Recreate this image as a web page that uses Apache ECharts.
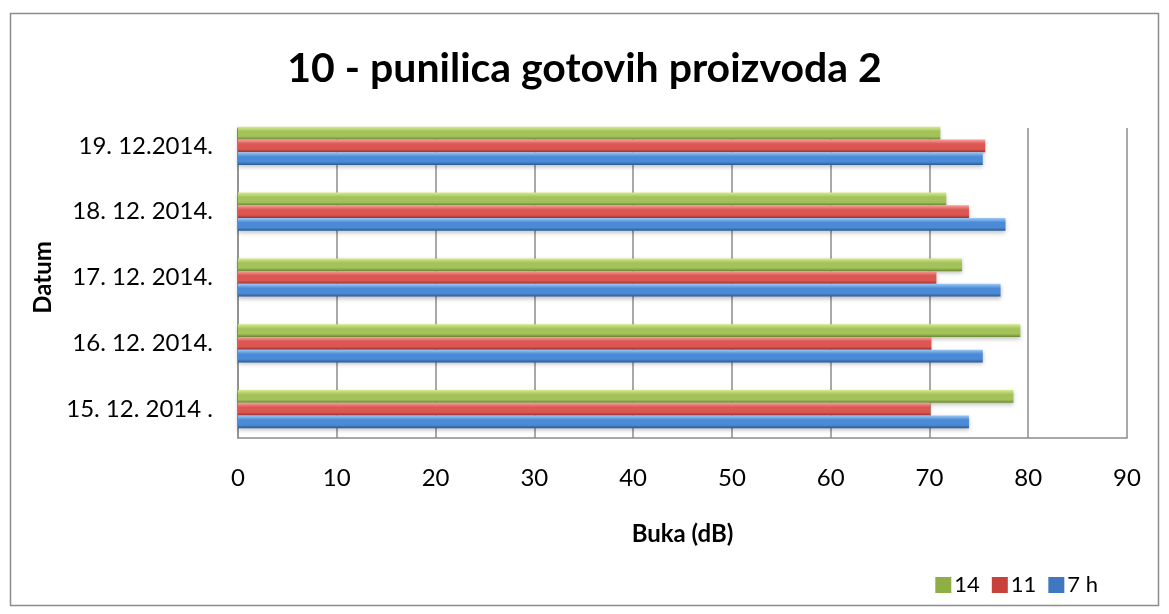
<!DOCTYPE html>
<html>
<head>
<meta charset="utf-8">
<script src="https://cdn.jsdelivr.net/npm/echarts@6/dist/echarts.min.js"></script>
<style>html,body{margin:0;padding:0;background:#fff}#c{width:1169px;height:614px}</style>
</head>
<body>
<div id="c"></div>
<script>
const categories = ['15. 12. 2014 .', '16. 12. 2014.', '17. 12. 2014.', '18. 12. 2014.', '19. 12.2014.'];
const s7h = [74.0, 75.4, 77.2, 77.7, 75.4];
const s11 = [70.1, 70.2, 70.7, 74.0, 75.65];
const s14 = [78.5, 79.2, 73.3, 71.7, 71.1];
const seriesNames = ['14', '11', '7 h'];
const legendOrder = ['14', '11', '7 h'];
const xTicks = [0, 10, 20, 30, 40, 50, 60, 70, 80, 90];

const FONT = 'Lato';
function grad(top, mid, bot) {
  return new echarts.graphic.LinearGradient(0, 0, 0, 1, [
    {offset: 0, color: top}, {offset: 0.35, color: mid}, {offset: 0.75, color: mid}, {offset: 1, color: bot}
  ]);
}
const colors = {
  '7 h': grad('#9cc8f5', '#4a8ad6', '#2c5a92'),
  '11': grad('#f8a09c', '#dc5652', '#9c3431'),
  '14': grad('#d6ea8c', '#a3c25a', '#6d8a36')
};
const legendColors = {'7 h': '#3f78c0', '11': '#c9413d', '14': '#8fae46'};

const chart = echarts.init(document.getElementById('c'), null, {renderer: 'canvas'});
const dataMap = {'7 h': s7h, '11': s11, '14': s14};
chart.setOption({
  animation: false,
  backgroundColor: '#fff',
  title: {
    text: '10 - punilica gotovih proizvoda 2',
    left: 'center', top: 43,
    textStyle: {fontFamily: FONT, fontWeight: 'bold', fontSize: 41, color: '#000'}
  },
  graphic: [{
    type: 'rect', shape: {x: 10.5, y: 13.5, width: 1148, height: 592},
    style: {fill: 'none', stroke: '#8c8c8c', lineWidth: 1.5}, silent: true, z: -10
  }],
  legend: {
    data: legendOrder.map(n => ({name: n, itemStyle: {color: legendColors[n]}})),
    right: 66, top: 569, itemWidth: 16, itemHeight: 16, itemGap: 12,
    icon: 'rect',
    textStyle: {fontFamily: FONT, fontSize: 22, color: '#000', padding: [0, 0, 0, -2]}
  },
  grid: [
    {left: 238, right: 42, top: 113, bottom: 172},
    {left: 238, right: 42, top: 128, bottom: 176}
  ],
  xAxis: [
    {gridIndex: 0, type: 'value', min: 0, max: 90, interval: 10, show: false},
    {gridIndex: 1, type: 'value', min: 0, max: 90, interval: 10,
     name: 'Buka (dB)', nameLocation: 'middle', nameGap: 84,
     nameTextStyle: {fontFamily: FONT, fontWeight: 'bold', fontSize: 24, color: '#000'},
     axisLine: {show: true, lineStyle: {color: '#8c8c8c', width: 1.5}},
     axisTick: {show: false},
     splitLine: {show: true, lineStyle: {color: '#8c8c8c', width: 1.5}},
     axisLabel: {fontFamily: FONT, fontSize: 24, color: '#000', margin: 28,
       formatter: v => xTicks.includes(v) ? String(v) : ''}}
  ],
  yAxis: [
    {gridIndex: 0, type: 'category', data: categories,
     name: 'Datum', nameLocation: 'middle', nameGap: 181, nameRotate: 90,
     nameTextStyle: {fontFamily: FONT, fontWeight: 'bold', fontSize: 24, color: '#000'},
     axisLine: {show: false}, axisTick: {show: false},
     axisLabel: {fontFamily: FONT, fontSize: 24, color: '#000', margin: 25}},
    {gridIndex: 1, type: 'category', data: [''],
     axisLine: {show: true, lineStyle: {color: '#8c8c8c', width: 1.5}},
     axisTick: {show: false}, axisLabel: {show: false}}
  ],
  series: seriesNames.map(n => ({
    name: n, type: 'bar', xAxisIndex: 0, yAxisIndex: 0,
    data: dataMap[n], barGap: '0%', barCategoryGap: '42%',
    itemStyle: {color: colors[n], shadowColor: 'rgba(0,0,0,0.25)', shadowBlur: 4, shadowOffsetY: 2},
    z: 3
  }))
});
</script>
</body>
</html>
